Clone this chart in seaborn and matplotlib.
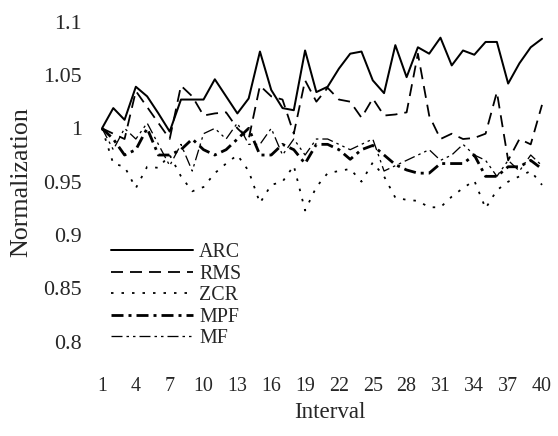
import numpy as np
import pandas as pd
import matplotlib
matplotlib.use("Agg")
import matplotlib.pyplot as plt
import seaborn as sns

interval = list(range(1, 41))
xtick_values = [1, 4, 7, 10, 13, 16, 19, 22, 25, 28, 31, 34, 37, 40]
ytick_values = [0.8, 0.85, 0.9, 0.95, 1.0, 1.05, 1.1]
ytick_labels = ["0.8", "0.85", "0.9", "0.95", "1", "1.05", "1.1"]

arc = [1.0, 1.019, 1.008, 1.039, 1.030, 1.014, 0.997, 1.027, 1.027, 1.027,
       1.046, 1.030, 1.014, 1.028, 1.072, 1.036, 1.019, 1.017, 1.073, 1.034,
       1.039, 1.056, 1.070, 1.072, 1.045, 1.033, 1.078, 1.048, 1.076, 1.070,
       1.085, 1.059, 1.073, 1.069, 1.081, 1.081, 1.042, 1.061, 1.076, 1.084]
rms = [1.0, 0.995, 0.990, 1.035, 1.020, 1.005, 0.990, 1.040, 1.030, 1.012,
       1.014, 1.015, 1.000, 0.990, 1.040, 1.030, 1.027, 0.995, 1.045, 1.025,
       1.038, 1.027, 1.025, 1.010, 1.028, 1.012, 1.013, 1.015, 1.070, 1.012,
       0.990, 0.995, 0.990, 0.991, 0.995, 1.034, 0.970, 0.990, 0.985, 1.022]
zcr = [1.0, 0.967, 0.964, 0.944, 0.964, 0.963, 0.975, 0.955, 0.941, 0.945,
       0.958, 0.967, 0.975, 0.960, 0.930, 0.947, 0.950, 0.965, 0.923, 0.945,
       0.958, 0.960, 0.962, 0.950, 0.968, 0.955, 0.935, 0.933, 0.932, 0.926,
       0.926, 0.936, 0.944, 0.951, 0.925, 0.942, 0.950, 0.955, 0.960, 0.947]
mpf = [1.0, 0.990, 0.975, 0.980, 1.000, 0.975, 0.975, 0.980, 0.990, 0.980,
       0.975, 0.980, 0.990, 1.000, 0.975, 0.975, 0.985, 0.980, 0.967, 0.985,
       0.985, 0.980, 0.971, 0.980, 0.984, 0.975, 0.966, 0.961, 0.958, 0.958,
       0.967, 0.967, 0.967, 0.975, 0.955, 0.955, 0.964, 0.964, 0.970, 0.962]
mf = [1.0, 0.980, 1.000, 0.990, 1.005, 0.985, 0.965, 0.985, 0.960, 0.995,
      1.000, 0.990, 1.005, 0.985, 0.985, 1.000, 0.975, 0.990, 0.975, 0.990,
      0.990, 0.985, 0.980, 0.985, 0.990, 0.960, 0.965, 0.970, 0.975, 0.980,
      0.970, 0.975, 0.985, 0.975, 0.970, 0.955, 0.970, 0.960, 0.975, 0.965]

series_names = ["ARC", "RMS", "ZCR", "MPF", "MF"]
series_values = [arc, rms, zcr, mpf, mf]

sns.set_style("white")
plt.rcParams["font.family"] = ["Liberation Serif", "DejaVu Serif"]
plt.rcParams["lines.scale_dashes"] = False

frames = []
for name, vals in zip(series_names, series_values):
    frames.append(pd.DataFrame({"Interval": interval, "Normalization": vals, "series": name}))
df = pd.concat(frames, ignore_index=True)

styles = {
    "ARC": dict(linestyle="-", linewidth=2.0),
    "RMS": dict(linestyle=(0, (12, 7)), linewidth=1.8),
    "ZCR": dict(linestyle=(0, (2.5, 8)), linewidth=1.8),
    "MPF": dict(linestyle=(0, (12, 5, 3, 5)), linewidth=2.8),
    "MF": dict(linestyle=(0, (11, 4, 2.5, 4, 2.5, 4)), linewidth=1.3),
}

fig = plt.figure(figsize=(558 / 72, 436 / 72), dpi=72)
ax = fig.add_axes([96 / 558, 1 - 373.7 / 436, 456 / 558, (373.7 - 14) / 436])

for name in series_names:
    sub = df[df["series"] == name]
    sns.lineplot(data=sub, x="Interval", y="Normalization", ax=ax, color="black",
                 label=name, **styles[name])

# x=1 at ~102 px, x=40 at ~542 px (axes spans 96..552)
ax.set_xlim(1 - 6 / 11.28, 40 + 10 / 11.28)
ax.set_ylim(0.77, 1.1072)
ax.set_xticks(xtick_values)
ax.set_xticklabels([str(v) for v in xtick_values])
ax.set_yticks(ytick_values)
ax.set_yticklabels(ytick_labels)
ax.tick_params(axis="x", length=0, labelsize=20, pad=3)
ax.tick_params(axis="y", length=0, labelsize=22, pad=14)
for s in ax.spines.values():
    s.set_visible(False)

ax.set_xlabel("Interval", fontsize=23)
ax.set_ylabel("Normalization", fontsize=26)
ax.xaxis.set_label_coords(0.513, -0.078)
ax.yaxis.set_label_coords(-0.14, 0.533)

leg = ax.legend(loc="upper left", bbox_to_anchor=(111 / 558, 1 - 243 / 436),
                bbox_transform=fig.transFigure, frameon=False, fontsize=20,
                handlelength=4.1, handletextpad=0.3, labelspacing=0.13,
                borderpad=0, borderaxespad=0)

fig.savefig("out.png", dpi=72)
